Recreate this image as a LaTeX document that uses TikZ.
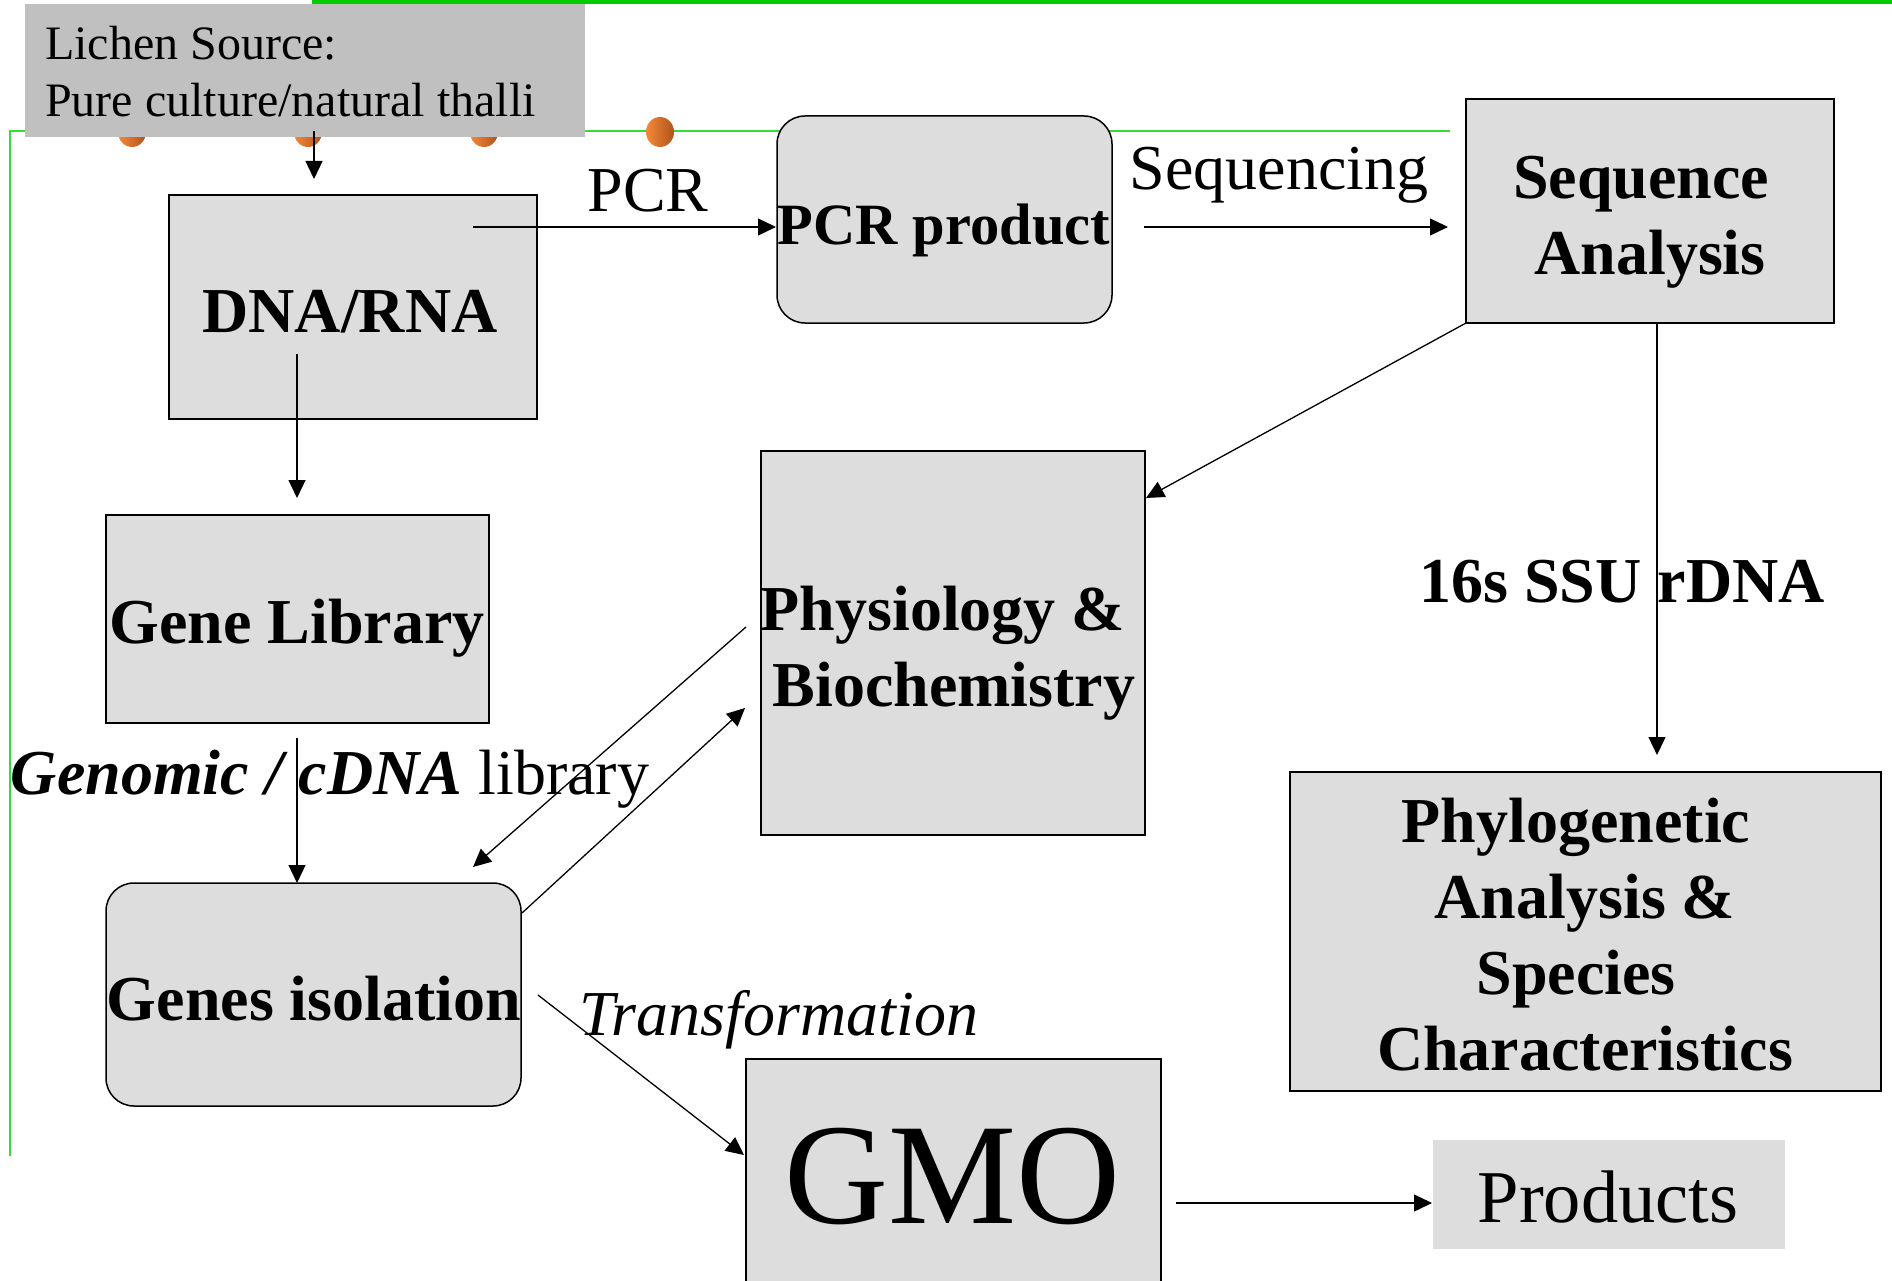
\documentclass[tikz,border=0pt]{standalone}
\usepackage{fontspec}
\setmainfont{Liberation Serif}
\usetikzlibrary{arrows.meta,shapes.geometric}
\definecolor{boxgray}{HTML}{DDDDDD}
\definecolor{srcgray}{HTML}{C0C0C0}
\definecolor{topgreen}{HTML}{00CC00}
\definecolor{thingreen}{HTML}{33DD33}
\definecolor{dotlight}{HTML}{F5883A}
\definecolor{dotdark}{HTML}{B0541A}
\begin{document}
\begin{tikzpicture}[x=1pt,y=-1pt,
  box/.style={draw=black, line width=1.5pt, fill=boxgray, rectangle, inner sep=0pt, outer sep=0pt},
  rbox/.style={box, rounded corners=28pt},
  lbl/.style={inner sep=0pt, anchor=base, font=\fontsize{64}{77}\selectfont},
  blbl/.style={inner sep=0pt, anchor=base, font=\fontsize{64}{77}\selectfont\bfseries},
  arr/.style={line width=1.3pt, -{Triangle[length=18pt,width=17pt]}},
  orangedot/.style={ellipse, minimum width=28pt, minimum height=30pt, inner sep=0pt, left color=dotlight, right color=dotdark, draw=none}]
\useasboundingbox (0,0) rectangle (1892,1281);
\clip (0,0) rectangle (1892,1281);
% green frame lines
\draw[topgreen, line width=4pt] (312,2) -- (1892,2);
\draw[thingreen, line width=2pt] (9.5,1156) -- (9.5,131) -- (1450,131);
% orange dots
\node[orangedot] (d1) at (132,132) {};
\node[orangedot] (d2) at (308,132) {};
\node[orangedot] (d3) at (484,132) {};
\node[orangedot] (d4) at (660,132) {};
% source box
\node[fill=srcgray, inner sep=0pt, minimum width=560pt, minimum height=133pt, anchor=north west] (src) at (25,4) {};
\node[lbl, anchor=base west, font=\fontsize{48}{57}\selectfont] (srct1) at (45,60) {Lichen Source:};
\node[lbl, anchor=base west, font=\fontsize{48}{57}\selectfont] (srct2) at (45,117) {Pure culture/natural thalli};
% boxes
\node[box, minimum width=368pt, minimum height=224pt] (dna) at (353,307) {};
\node[rbox, minimum width=335pt, minimum height=207pt] (pcr) at (944.5,219.5) {};
\node[box, minimum width=368pt, minimum height=224pt] (seq) at (1650,211) {};
\node[box, minimum width=384pt, minimum height=384pt] (phys) at (953,643) {};
\node[box, minimum width=383pt, minimum height=208pt] (glib) at (297.5,619) {};
\node[rbox, minimum width=415pt, minimum height=223pt] (giso) at (313.5,994.5) {};
\node[box, minimum width=591pt, minimum height=319pt] (phylo) at (1585.5,931.5) {};
\node[box, minimum width=415pt, minimum height=241pt] (gmo) at (953.5,1179.5) {};
\node[fill=boxgray, inner sep=0pt, minimum width=352pt, minimum height=109pt] (prod) at (1609,1194.5) {};
% box texts
\node[blbl] (dnat) at (350,332) {DNA/RNA};
\node[blbl, font=\fontsize{58.5}{70}\selectfont\bfseries] (pcrt) at (944,245) {PCR product};
\node[blbl] (seqt1) at (1641,199) {Sequence};
\node[blbl] (seqt2) at (1650,275) {Analysis};
\node[blbl] (physt1) at (943,630) {Physiology \&};
\node[blbl] (physt2) at (954,706) {Biochemistry};
\node[blbl] (glibt) at (297,643) {Gene Library};
\node[blbl] (gisot) at (314,1020) {Genes isolation};
\node[blbl] (phylot1) at (1576,842) {Phylogenetic};
\node[blbl] (phylot2) at (1585,918) {Analysis \&};
\node[blbl] (phylot3) at (1576,994) {Species};
\node[blbl] (phylot4) at (1585,1070) {Characteristics};
\node[lbl, font=\fontsize{144}{160}\selectfont] (gmot) at (953,1223) {GMO};
\node[lbl, font=\fontsize{74.5}{88}\selectfont] (prodt) at (1608,1222) {Products};
% connector end points
\coordinate (c1a) at (314,131); \coordinate (c1b) at (314,179);
\coordinate (c2a) at (473,227); \coordinate (c2b) at (776,227);
\coordinate (c3a) at (1144,227); \coordinate (c3b) at (1448,227);
\coordinate (c4b) at (1146,498);
\coordinate (c5a) at (1657,323); \coordinate (c5b) at (1657,755);
\coordinate (c6a) at (297,354); \coordinate (c6b) at (297,498);
\coordinate (c7a) at (297,738); \coordinate (c7b) at (297,883);
\coordinate (c8a) at (746,627); \coordinate (c8b) at (473,867);
\coordinate (c9a) at (522,913); \coordinate (c9b) at (745,708);
\coordinate (c10a) at (538,995); \coordinate (c10b) at (744,1155);
\coordinate (c11a) at (1176,1203); \coordinate (c11b) at (1432,1203);
% connectors
\draw[arr] (c1a) -- (c1b);
\draw[arr] (c2a) -- (c2b);
\draw[arr] (c3a) -- (c3b);
\draw[arr] (seq.south west) -- (c4b);
\draw[arr] (c5a) -- (c5b);
\draw[arr] (c6a) -- (c6b);
\draw[arr] (c7a) -- (c7b);
\draw[arr] (c8a) -- (c8b);
\draw[arr] (c9a) -- (c9b);
\draw[arr] (c10a) -- (c10b);
\draw[arr] (c11a) -- (c11b);
% connector labels
\node[lbl] (pcrl) at (648,212) {PCR};
\node[lbl] (seql) at (1279,190) {Sequencing};
\node[blbl] (rdnal) at (1622,602) {16s SSU rDNA};
\node[lbl] (genl) at (330,794) {{\bfseries\itshape Genomic / cDNA} library};
\node[lbl, font=\fontsize{64}{77}\selectfont\itshape] (trl) at (779,1035) {Transformation};
\end{tikzpicture}
\end{document}
